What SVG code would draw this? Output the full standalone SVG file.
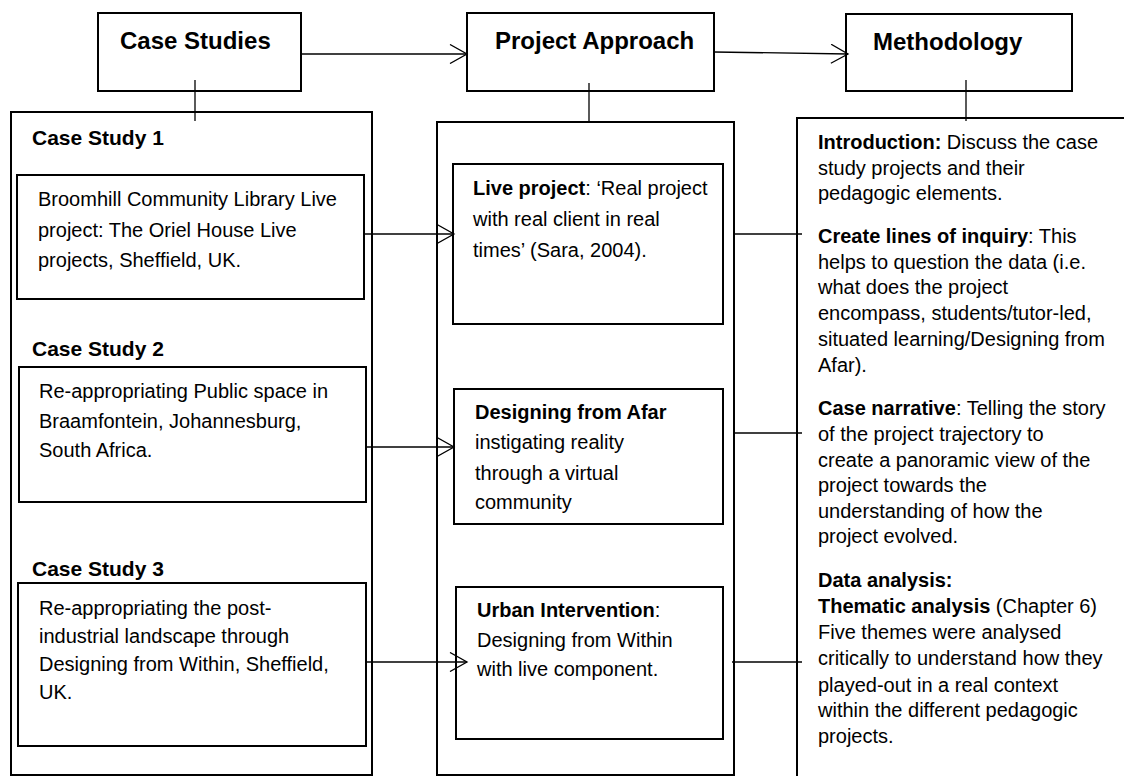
<svg xmlns="http://www.w3.org/2000/svg" width="1124" height="776" viewBox="0 0 1124 776">
<style>
.box{fill:#fff;stroke:#000;stroke-width:2}
.hdr{font-family:"Liberation Sans",Arial,sans-serif;font-size:24px;font-weight:bold;fill:#000}
.sub{font-family:"Liberation Sans",Arial,sans-serif;font-size:21px;font-weight:bold;fill:#000}
.t{font-family:"Liberation Sans",Arial,sans-serif;font-size:20px;fill:#000}
.b{font-weight:bold}
.conn{stroke:#000;stroke-width:1.3;fill:none}
</style>
<defs>
<marker id="arr" viewBox="-1 0 20 20" markerWidth="20" markerHeight="20" refX="17" refY="10" orient="auto" markerUnits="userSpaceOnUse">
<path d="M0,0.5 L17,10 L0,19.5" fill="none" stroke="#000" stroke-width="1.3"/>
</marker>
</defs>
<rect width="1124" height="776" fill="#fff"/>

<g id="case-studies-header">
<rect class="box" x="98" y="13" width="203" height="78"/>
<text class="hdr" x="120" y="49">Case Studies</text>
</g>
<g id="project-approach-header">
<rect class="box" x="467" y="13" width="247" height="78"/>
<text class="hdr" x="495" y="49">Project Approach</text>
</g>
<g id="methodology-header">
<rect class="box" x="846" y="14" width="226" height="77"/>
<text class="hdr" x="873" y="50">Methodology</text>
</g>

<g id="case-studies-column">
<rect class="box" x="11" y="112" width="361" height="663"/>
<text class="sub" x="32" y="145">Case Study 1</text>
<text class="sub" x="32" y="356">Case Study 2</text>
<text class="sub" x="32" y="576">Case Study 3</text>
</g>
<g id="case-study-1">
<rect class="box" x="17" y="175" width="347" height="124"/>
<text class="t"><tspan x="38" y="206">Broomhill Community Library Live</tspan><tspan x="38" y="237">project: The Oriel House Live</tspan><tspan x="38" y="267">projects, Sheffield, UK.</tspan></text>
</g>
<g id="case-study-2">
<rect class="box" x="19" y="367" width="347" height="135"/>
<text class="t"><tspan x="39" y="398">Re-appropriating Public space in</tspan><tspan x="39" y="428">Braamfontein, Johannesburg,</tspan><tspan x="39" y="457">South Africa.</tspan></text>
</g>
<g id="case-study-3">
<rect class="box" x="18" y="583" width="348" height="163"/>
<text class="t"><tspan x="39" y="615">Re-appropriating the post-</tspan><tspan x="39" y="643">industrial landscape through</tspan><tspan x="39" y="671">Designing from Within, Sheffield,</tspan><tspan x="39" y="699">UK.</tspan></text>
</g>

<g id="project-approach-column">
<rect class="box" x="437" y="122" width="297" height="653"/>
</g>
<g id="live-project">
<rect class="box" x="453" y="164" width="270" height="160"/>
<text class="t"><tspan x="473" y="195"><tspan class="b">Live project</tspan>: ‘Real project</tspan><tspan x="473" y="226">with real client in real</tspan><tspan x="473" y="257">times’ (Sara, 2004).</tspan></text>
</g>
<g id="designing-from-afar">
<rect class="box" x="454" y="389" width="269" height="135"/>
<text class="t"><tspan x="475" y="419" class="b">Designing from Afar</tspan><tspan x="475" y="449">instigating reality</tspan><tspan x="475" y="480">through a virtual</tspan><tspan x="475" y="509">community</tspan></text>
</g>
<g id="urban-intervention">
<rect class="box" x="456" y="587" width="267" height="152"/>
<text class="t"><tspan x="477" y="617"><tspan class="b">Urban Intervention</tspan>:</tspan><tspan x="477" y="647">Designing from Within</tspan><tspan x="477" y="676">with live component.</tspan></text>
</g>

<g id="methodology-column">
<rect class="box" x="797" y="118" width="340" height="680"/>
<text class="t">
<tspan x="818" y="149"><tspan class="b">Introduction:</tspan> Discuss the case</tspan>
<tspan x="818" y="175">study projects and their</tspan>
<tspan x="818" y="200">pedagogic elements.</tspan>
<tspan x="818" y="243"><tspan class="b">Create lines of inquiry</tspan>: This</tspan>
<tspan x="818" y="269">helps to question the data (i.e.</tspan>
<tspan x="818" y="294">what does the project</tspan>
<tspan x="818" y="320">encompass, students/tutor-led,</tspan>
<tspan x="818" y="346">situated learning/Designing from</tspan>
<tspan x="818" y="372">Afar).</tspan>
<tspan x="818" y="415"><tspan class="b">Case narrative</tspan>: Telling the story</tspan>
<tspan x="818" y="441">of the project trajectory to</tspan>
<tspan x="818" y="467">create a panoramic view of the</tspan>
<tspan x="818" y="492">project towards the</tspan>
<tspan x="818" y="518">understanding of how the</tspan>
<tspan x="818" y="543">project evolved.</tspan>
<tspan x="818" y="587" class="b">Data analysis:</tspan>
<tspan x="818" y="613"><tspan class="b">Thematic analysis</tspan> (Chapter 6)</tspan>
<tspan x="818" y="639">Five themes were analysed</tspan>
<tspan x="818" y="665">critically to understand how they</tspan>
<tspan x="818" y="692">played-out in a real context</tspan>
<tspan x="818" y="717">within the different pedagogic</tspan>
<tspan x="818" y="743">projects.</tspan>
</text>
</g>

<g id="connectors">
<line class="conn" x1="301" y1="54" x2="467" y2="54" marker-end="url(#arr)"/>
<line class="conn" x1="714" y1="52" x2="848" y2="54" marker-end="url(#arr)"/>
<line class="conn" x1="195" y1="80" x2="195" y2="121"/>
<line class="conn" x1="589" y1="83" x2="589" y2="122"/>
<line class="conn" x1="966" y1="80" x2="966" y2="121"/>
<line class="conn" x1="364" y1="234" x2="454" y2="234" marker-end="url(#arr)"/>
<line class="conn" x1="366" y1="447" x2="454" y2="447" marker-end="url(#arr)"/>
<line class="conn" x1="366" y1="662" x2="467" y2="662" marker-end="url(#arr)"/>
<line class="conn" x1="734" y1="234" x2="802" y2="234"/>
<line class="conn" x1="734" y1="433" x2="802" y2="433"/>
<line class="conn" x1="732" y1="662" x2="802" y2="662"/>
</g>
</svg>
